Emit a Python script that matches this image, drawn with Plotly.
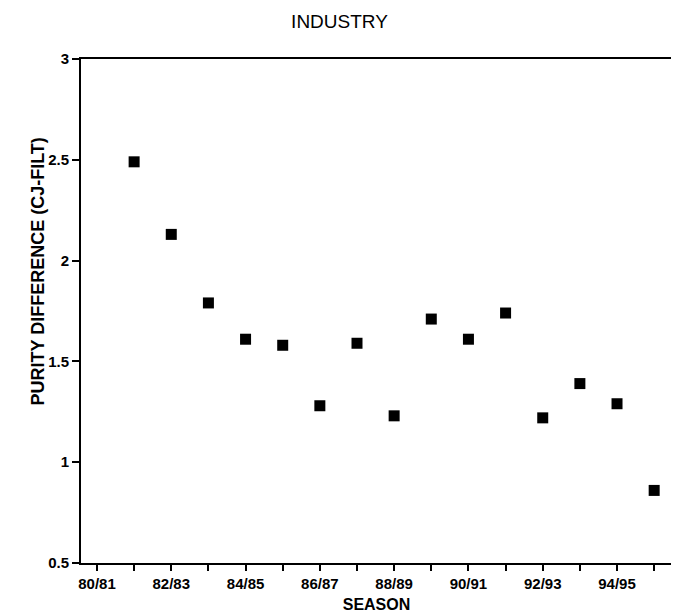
import plotly.graph_objects as go

seasons = ["80/81", "81/82", "82/83", "83/84", "84/85", "85/86", "86/87", "87/88",
           "88/89", "89/90", "90/91", "91/92", "92/93", "93/94", "94/95", "95/96"]
data_seasons = seasons[1:]
purity_diff = [2.49, 2.13, 1.79, 1.61, 1.58, 1.28, 1.59, 1.23,
               1.71, 1.61, 1.74, 1.22, 1.39, 1.29, 0.86]
y_ticks = [0.5, 1, 1.5, 2, 2.5, 3]
x_ticktext = [s if i % 2 == 0 else "" for i, s in enumerate(seasons)]
y_title = "PURITY DIFFERENCE (CJ-FILT)"

FONT = "Liberation Sans, Arial, sans-serif"

# the page body has an 8px margin, so the figure is drawn 8px smaller
W, H = 671, 607
L, R, T, B = 73, 7, 51, 52

fig = go.Figure(go.Scatter(
    x=data_seasons, y=purity_diff, mode="markers",
    marker=dict(symbol="square", size=11, color="black"),
))

fig.update_layout(
    width=W, height=H,
    margin=dict(l=L, r=R, t=T, b=B),
    paper_bgcolor="white", plot_bgcolor="white",
    showlegend=False,
    font=dict(family=FONT, color="black"),
    title=dict(text="INDUSTRY", x=331.5 / W, xref="container", xanchor="center",
               y=1 - 13 / H, yref="container", yanchor="middle",
               font=dict(size=19, family=FONT, color="black")),
)

fig.update_xaxes(
    type="category", categoryorder="array", categoryarray=seasons,
    range=[-0.43, 15.48], automargin=False,
    tickmode="array", tickvals=seasons, ticktext=x_ticktext,
    ticks="outside", ticklen=6, tickwidth=1.5, tickcolor="black",
    showline=True, linewidth=2, linecolor="black", mirror=True,
    showgrid=False, zeroline=False,
    tickfont=dict(size=15, family=FONT, color="black", weight="bold"),
    title=dict(text="<b>SEASON</b>", font=dict(size=16, family=FONT, color="black"), standoff=8),
)
fig.update_yaxes(
    range=[0.5, 3], automargin=False,
    tickmode="array", tickvals=y_ticks,
    ticks="outside", ticklen=7, tickwidth=1.5, tickcolor="black",
    showline=True, linewidth=2, linecolor="black", mirror=True,
    showgrid=False, zeroline=False,
    tickfont=dict(size=15, family=FONT, color="black", weight="bold"),
)

plot_w = W - L - R
plot_h = H - T - B
fig.add_annotation(
    text="<b>" + y_title + "</b>", textangle=-90, showarrow=False,
    xref="paper", yref="paper",
    x=(29.5 - L) / plot_w, y=(H - B - 264) / plot_h,
    xanchor="center", yanchor="middle",
    font=dict(size=18, family=FONT, color="black"),
)

fig.write_html("out.html")
